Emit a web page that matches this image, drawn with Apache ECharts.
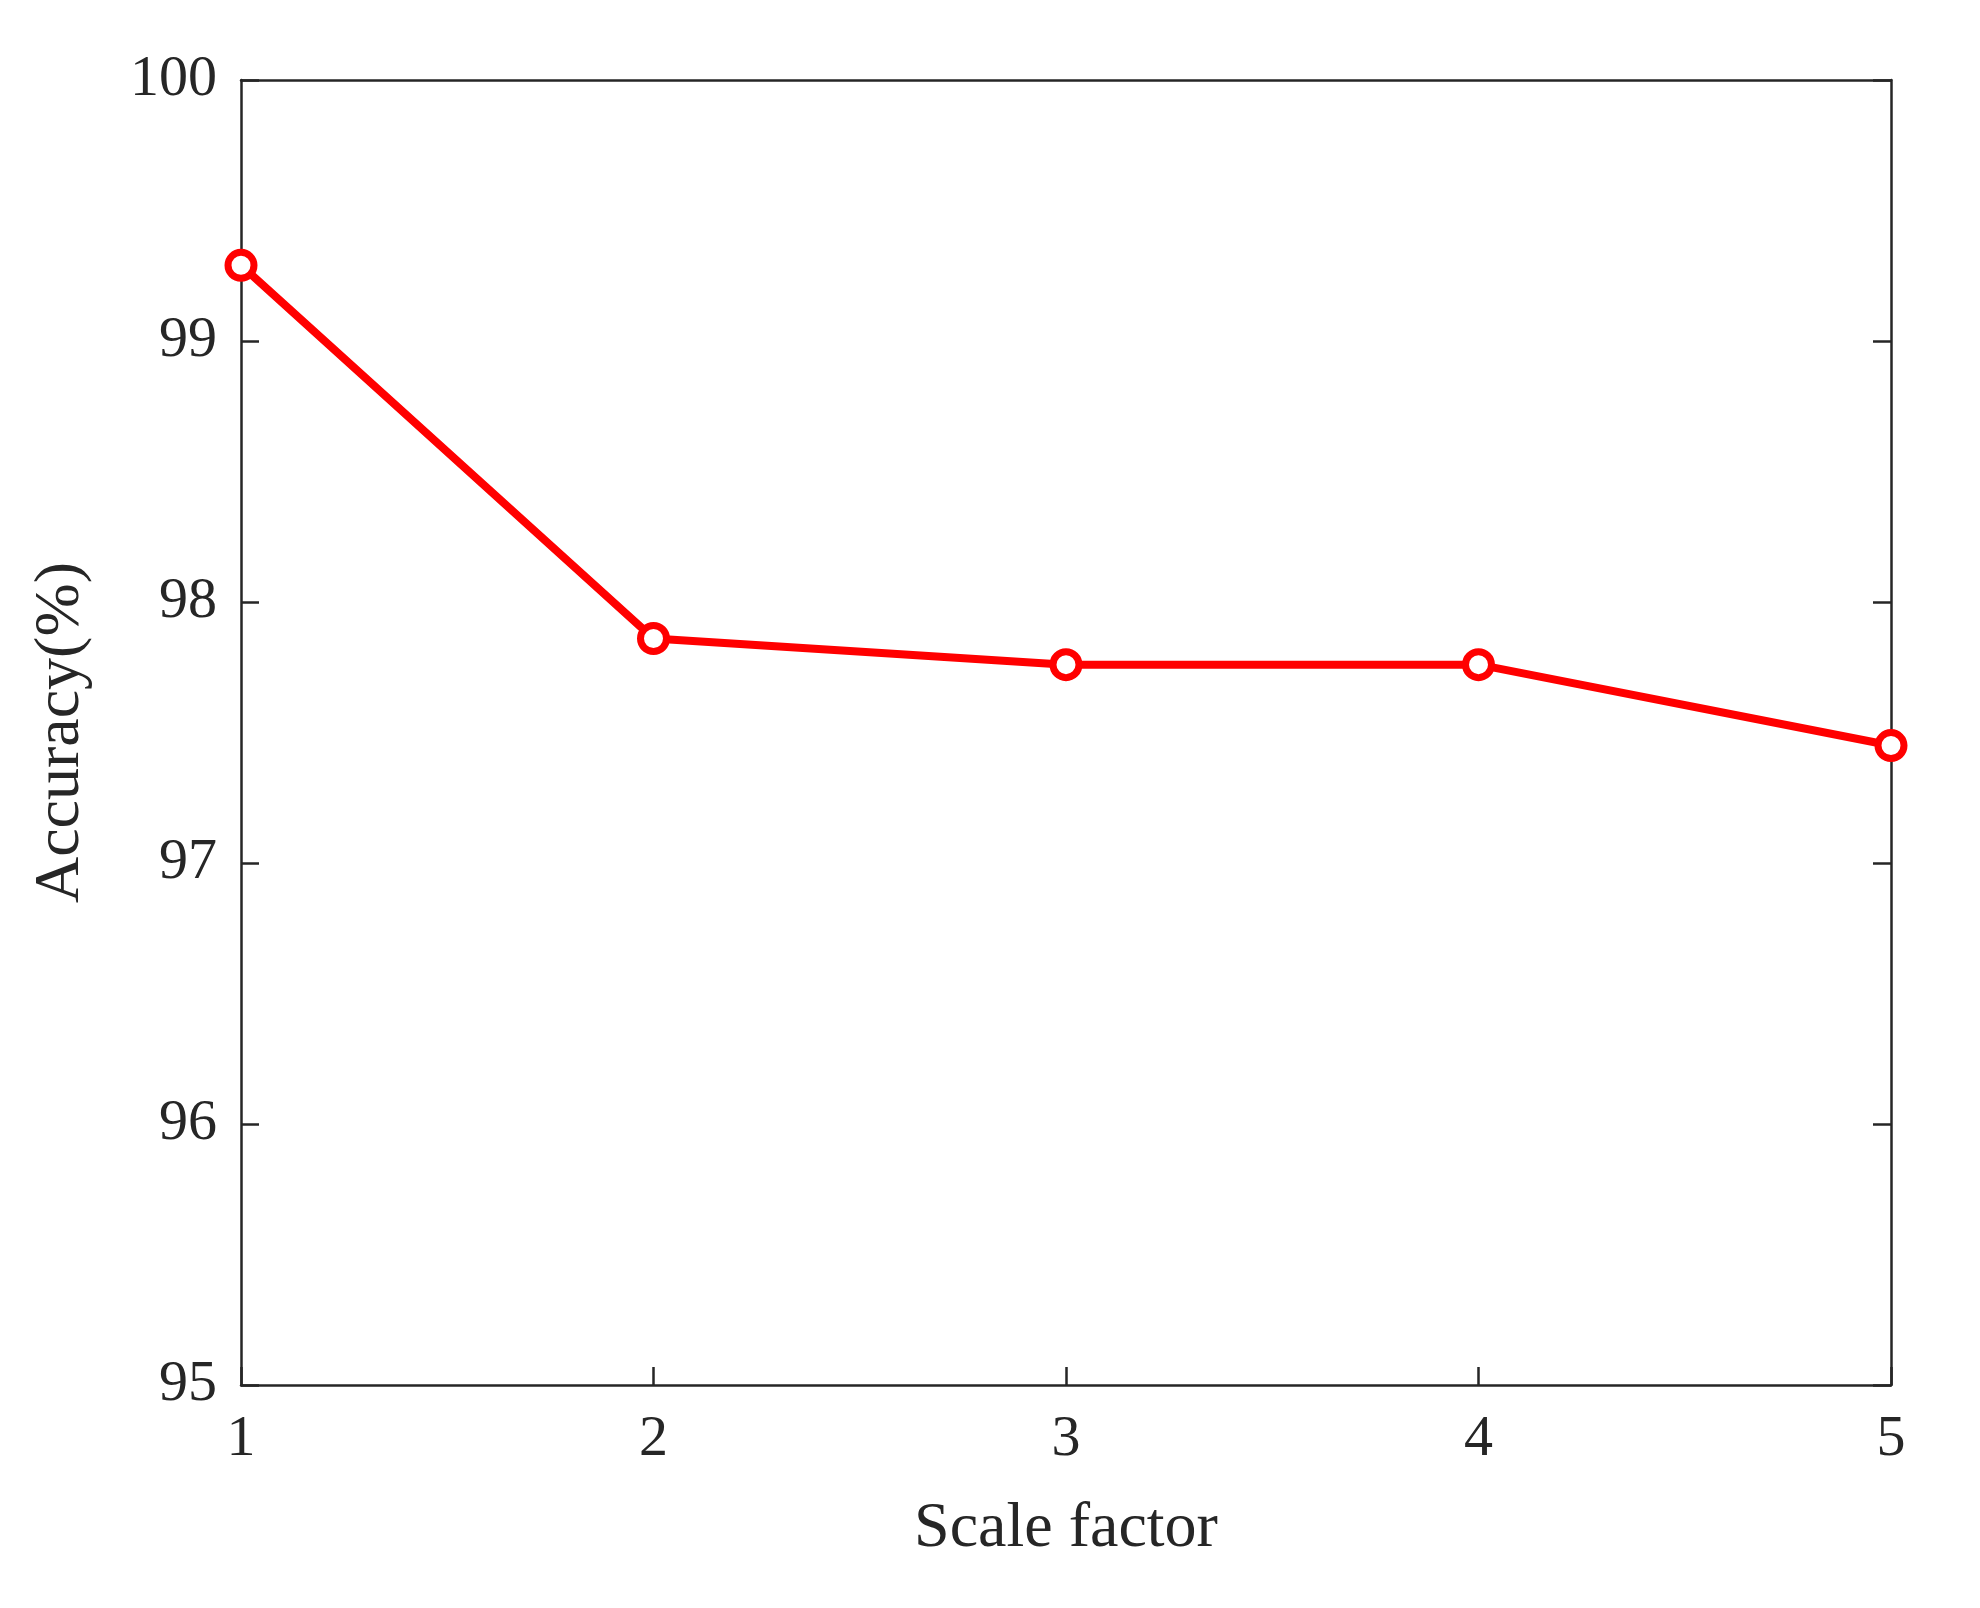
<!DOCTYPE html>
<html>
<head>
<meta charset="UTF-8">
<script src="https://cdn.jsdelivr.net/npm/echarts@6/dist/echarts.min.js"></script>
<style>
  body { margin: 0; background: #fff; }
  #chart { width: 1980px; height: 1608px; }
</style>
</head>
<body>
<div id="chart"></div>
<script>
// datos
const scaleFactors = [1, 2, 3, 4, 5];
const accuracy = [99.29, 97.86, 97.76, 97.76, 97.45];

const font = "'Liberation Serif', 'Times New Roman', serif";
const axisColor = '#262626';

const chart = echarts.init(document.getElementById('chart'));

function line() {
  return { show: true, lineStyle: { color: axisColor, width: 2.5 } };
}
function ticks(show) {
  return { show: show, inside: true, length: 18, lineStyle: { color: axisColor, width: 2.5 } };
}

chart.setOption({
  animation: false,
  grid: { left: 241, right: 89, top: 80, bottom: 223 },
  xAxis: [
    {
      type: 'value', min: 1, max: 5, interval: 1, position: 'bottom',
      axisLine: line(), axisTick: ticks(true), splitLine: { show: false },
      name: 'Scale factor', nameLocation: 'middle', nameGap: 112,
      nameTextStyle: { fontFamily: font, fontSize: 64, color: axisColor },
      axisLabel: { fontFamily: font, fontSize: 58, color: axisColor, margin: 26 }
    },
    {
      type: 'value', min: 1, max: 5, interval: 1, position: 'top',
      axisLine: line(), axisTick: ticks(false), splitLine: { show: false },
      axisLabel: { show: false }
    }
  ],
  yAxis: [
    {
      type: 'value', min: 95, max: 100, interval: 1, position: 'left',
      axisLine: line(), axisTick: ticks(true), splitLine: { show: false },
      name: 'Accuracy(%)', nameLocation: 'middle', nameGap: 148,
      nameTextStyle: { fontFamily: font, fontSize: 64, color: axisColor },
      axisLabel: { fontFamily: font, fontSize: 58, color: axisColor, margin: 24 }
    },
    {
      type: 'value', min: 95, max: 100, interval: 1, position: 'right',
      axisLine: line(), axisTick: ticks(true), splitLine: { show: false },
      axisLabel: { show: false }
    }
  ],
  series: [{
    type: 'line',
    data: scaleFactors.map((x, i) => [x, accuracy[i]]),
    lineStyle: { color: '#ff0000', width: 8 },
    symbol: 'circle',
    symbolSize: 26,
    itemStyle: { color: '#ffffff', borderColor: '#ff0000', borderWidth: 7 },
    z: 5
  }]
});
</script>
</body>
</html>
